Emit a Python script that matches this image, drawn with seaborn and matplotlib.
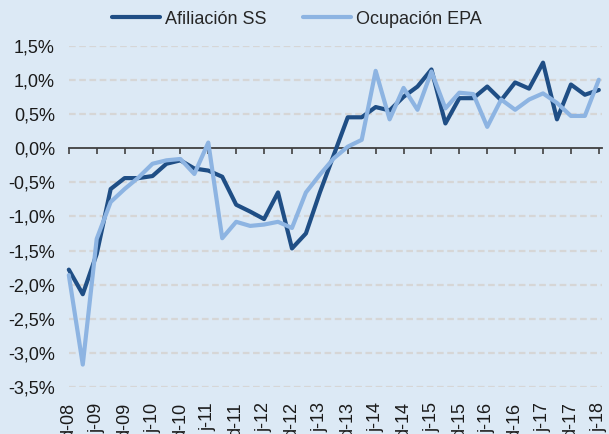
import numpy as np
import pandas as pd
import matplotlib
matplotlib.use("Agg")
import matplotlib.pyplot as plt
from matplotlib.ticker import FuncFormatter
import seaborn as sns

# Quarterly data, d-08 .. j-18 (39 quarters)
quarter_index = list(range(39))
tick_labels = ["d-08", "j-09", "d-09", "j-10", "d-10", "j-11", "d-11", "j-12",
               "d-12", "j-13", "d-13", "j-14", "d-14", "j-15", "d-15", "j-16",
               "d-16", "j-17", "d-17", "j-18"]
afiliacion_ss = [-1.78, -2.14, -1.55, -0.60, -0.44, -0.44, -0.41, -0.23, -0.18, -0.30,
                 -0.33, -0.42, -0.83, -0.93, -1.04, -0.65, -1.47, -1.25, -0.65, -0.10,
                 0.45, 0.45, 0.60, 0.55, 0.75, 0.90, 1.15, 0.36, 0.73, 0.73,
                 0.90, 0.70, 0.96, 0.87, 1.25, 0.42, 0.93, 0.78, 0.85]
ocupacion_epa = [-1.86, -3.17, -1.33, -0.79, -0.60, -0.43, -0.23, -0.18, -0.16, -0.38,
                 0.08, -1.32, -1.08, -1.14, -1.12, -1.08, -1.17, -0.65, -0.39, -0.15,
                 0.02, 0.12, 1.13, 0.42, 0.88, 0.56, 1.12, 0.58, 0.81, 0.79,
                 0.31, 0.71, 0.56, 0.71, 0.80, 0.66, 0.47, 0.47, 1.00]
series_names = ["Afiliación SS", "Ocupación EPA"]
series_colors = ["#1f4e85", "#8db4e2"]

df = pd.DataFrame({
    "t": quarter_index * 2,
    "valor": afiliacion_ss + ocupacion_epa,
    "serie": [series_names[0]] * len(afiliacion_ss) + [series_names[1]] * len(ocupacion_epa),
})

bg = "#dce9f5"
sns.set_theme(style="white")
plt.rcParams["font.family"] = ["Liberation Sans", "DejaVu Sans"]
fs = 13

fig = plt.figure(figsize=(6.09, 4.34), dpi=100, facecolor=bg)
ax = fig.add_axes([0.113, 0.108, 0.876, 0.787])
ax.set_facecolor(bg)

sns.lineplot(data=df, x="t", y="valor", hue="serie", palette=series_colors,
             hue_order=series_names, linewidth=3.0, ax=ax, zorder=3)
for ln in ax.get_lines():
    ln.set_clip_on(False)

ax.set_ylim(-3.5, 1.5)
ax.set_xlim(0, 38.25)
yt = np.arange(-3.5, 1.51, 0.5)
ax.set_yticks(yt)
ax.yaxis.set_major_formatter(FuncFormatter(lambda v, p: f"{v:.1f}%".replace(".", ",")))
for v in yt:
    if abs(v) > 1e-9:
        ax.axhline(v, color="#d6d6d6", lw=1.6, ls=(0, (3, 1.6)), zorder=1)

ax.tick_params(axis="y", length=0, pad=10, labelsize=fs, colors="#1a1a1a")
for s in ["left", "right", "top"]:
    ax.spines[s].set_visible(False)

# main x axis: spine at zero with downward tick marks, no labels
ax.spines["bottom"].set_position(("data", 0))
ax.spines["bottom"].set_color("#404040")
ax.spines["bottom"].set_linewidth(1.3)
ax.spines["bottom"].set_zorder(2)
xt = quarter_index[::2]
ax.set_xticks(xt)
ax.set_xticklabels([])
ax.tick_params(axis="x", direction="out", length=4, width=1.2, color="#404040", bottom=True)
ax.set_xlabel("")
ax.set_ylabel("")

# labels at bottom
sec = ax.secondary_xaxis("bottom")
sec.set_xticks(xt)
sec.set_xticklabels(tick_labels, rotation=90, va="top", ha="center")
sec.tick_params(length=0, pad=11, labelsize=fs, colors="#1a1a1a")
sec.spines["bottom"].set_visible(False)

sns.move_legend(ax, "center", bbox_to_anchor=(0.487, 0.956),
                bbox_transform=fig.transFigure, ncol=2, frameon=False, title=None,
                fontsize=fs, handlelength=2.7, handletextpad=0.25, columnspacing=2.0)
for line in ax.get_legend().get_lines():
    line.set_linewidth(3.0)

fig.savefig("out.png", dpi=100, facecolor=bg)
